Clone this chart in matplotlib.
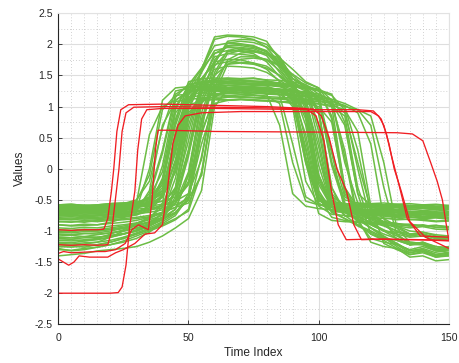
import matplotlib
matplotlib.use("Agg")
import matplotlib.pyplot as plt
from matplotlib.ticker import MultipleLocator

# ---------------- data ----------------
time_index = list(range(0, 151, 5))  # sample positions of the green series

green_series = [
    # upper group (second rise to a high peak)
    [-0.62,-0.63,-0.61,-0.63,-0.62,-0.60,-0.60,-0.57,-0.45,0.10,1.05,1.55,2.08,2.13,2.12,2.08,1.95,1.70,1.38,0.95,-0.25,-0.62,-0.68,-0.70,-0.69,-0.72,-0.71,-0.74,-0.73,-0.76,-0.75],
    [-0.70,-0.71,-0.69,-0.70,-0.70,-0.68,-0.68,-0.66,-0.60,-0.40,0.30,1.25,1.70,2.02,2.05,2.03,1.96,1.80,1.45,1.32,0.60,-0.50,-0.76,-0.78,-0.80,-0.79,-0.82,-0.81,-0.83,-0.85,-0.84],
    [-0.66,-0.65,-0.67,-0.66,-0.64,-0.65,-0.62,-0.55,-0.30,0.45,1.25,1.55,1.90,1.95,1.94,1.90,1.82,1.55,1.30,0.70,-0.40,-0.62,-0.63,-0.64,-0.66,-0.65,-0.67,-0.68,-0.70,-0.69,-0.71],
    [-0.75,-0.74,-0.76,-0.75,-0.73,-0.74,-0.72,-0.70,-0.66,-0.55,-0.20,0.90,1.50,1.85,1.90,1.88,1.85,1.72,1.45,1.30,1.10,0.10,-0.55,-0.65,-0.75,-0.85,-0.92,-1.00,-1.02,-1.06,-1.08],
    [-0.60,-0.58,-0.59,-0.60,-0.58,-0.57,-0.56,-0.52,-0.40,-0.05,0.95,1.40,1.80,1.85,1.84,1.82,1.75,1.58,1.35,1.05,-0.10,-0.55,-0.60,-0.58,-0.60,-0.61,-0.59,-0.62,-0.60,-0.63,-0.62],
    [-1.05,-1.06,-1.04,-1.05,-1.03,-1.00,-0.95,-0.88,-0.78,-0.55,0.20,1.20,1.75,1.98,2.00,1.97,1.90,1.70,1.40,1.28,0.45,-0.55,-0.65,-0.75,-0.88,-0.98,-1.08,-1.18,-1.20,-1.25,-1.27],
    [-0.80,-0.79,-0.81,-0.80,-0.78,-0.77,-0.74,-0.68,-0.45,0.30,1.20,1.45,1.72,1.76,1.75,1.70,1.60,1.40,1.10,0.10,-0.55,-0.68,-0.70,-0.72,-0.71,-0.73,-0.75,-0.74,-0.77,-0.76,-0.78],
    [-0.68,-0.69,-0.67,-0.68,-0.66,-0.67,-0.65,-0.63,-0.60,-0.52,-0.25,0.70,1.40,1.72,1.80,1.80,1.76,1.65,1.45,1.35,1.25,0.85,-0.30,-0.62,-0.72,-0.90,-1.05,-1.20,-1.22,-1.32,-1.35],
    [-1.15,-1.14,-1.16,-1.13,-1.10,-1.05,-1.00,-0.92,-0.82,-0.65,-0.10,1.05,1.50,1.68,1.70,1.68,1.62,1.50,1.35,1.25,0.90,-0.40,-0.62,-0.70,-0.80,-0.88,-0.95,-1.05,-1.05,-1.12,-1.15],
    [-0.72,-0.71,-0.73,-0.72,-0.70,-0.71,-0.69,-0.66,-0.58,-0.30,0.70,1.35,1.85,1.97,1.98,1.95,1.88,1.68,1.36,0.85,-0.45,-0.78,-0.83,-0.85,-0.86,-0.85,-0.88,-0.90,-0.92,-0.91,-0.94],
    [-0.64,-0.63,-0.65,-0.64,-0.62,-0.63,-0.61,-0.60,-0.57,-0.52,-0.40,0.15,1.30,1.75,1.86,1.88,1.85,1.78,1.60,1.40,1.30,1.10,0.10,-0.55,-0.63,-0.64,-0.66,-0.65,-0.67,-0.66,-0.68],
    [-0.90,-0.92,-0.91,-0.90,-0.88,-0.86,-0.83,-0.78,-0.62,0.05,1.05,1.35,1.60,1.65,1.64,1.62,1.55,1.42,1.30,1.10,0.20,-0.60,-0.68,-0.80,-0.95,-1.08,-1.20,-1.32,-1.30,-1.38,-1.40],
    [-0.63,-0.62,-0.64,-0.62,-0.61,-0.60,-0.59,-0.55,-0.45,-0.05,0.95,1.60,2.12,2.15,2.14,2.12,2.05,1.75,1.38,1.00,-0.20,-0.60,-0.66,-0.67,-0.69,-0.68,-0.70,-0.72,-0.71,-0.73,-0.74],
    [-0.85,-0.84,-0.86,-0.83,-0.82,-0.80,-0.78,-0.75,-0.70,-0.55,-0.05,1.10,1.65,1.88,1.92,1.90,1.85,1.75,1.50,1.32,1.15,0.30,-0.45,-0.58,-0.60,-0.62,-0.61,-0.63,-0.62,-0.64,-0.63],
    [-1.25,-1.26,-1.24,-1.22,-1.18,-1.12,-1.05,-0.97,-0.88,-0.75,-0.45,0.75,1.55,1.90,1.95,1.93,1.85,1.65,1.38,1.28,0.95,-0.45,-0.70,-0.80,-0.90,-1.00,-1.12,-1.22,-1.22,-1.30,-1.32],
    [-0.60,-0.59,-0.61,-0.60,-0.58,-0.57,-0.55,-0.48,-0.20,0.70,1.30,1.45,1.68,1.72,1.71,1.70,1.65,1.50,1.32,1.15,0.20,-0.52,-0.57,-0.58,-0.57,-0.59,-0.58,-0.60,-0.59,-0.61,-0.60],
    [-0.66,-0.67,-0.65,-0.66,-0.64,-0.63,-0.61,-0.55,-0.25,0.80,1.35,1.62,1.98,2.02,2.01,1.98,1.88,1.62,1.32,0.45,-0.50,-0.62,-0.64,-0.66,-0.65,-0.67,-0.68,-0.70,-0.69,-0.72,-0.71],
    [-0.60,-0.61,-0.59,-0.60,-0.59,-0.58,-0.57,-0.55,-0.52,-0.45,-0.25,0.60,1.70,2.05,2.08,2.07,2.00,1.80,1.45,1.30,0.70,-0.45,-0.58,-0.60,-0.61,-0.60,-0.62,-0.61,-0.63,-0.62,-0.64],
    [-0.72,-0.73,-0.71,-0.72,-0.70,-0.69,-0.68,-0.66,-0.63,-0.58,-0.48,-0.10,1.20,1.68,1.76,1.78,1.75,1.68,1.52,1.38,1.30,1.00,-0.30,-0.70,-0.75,-0.76,-0.78,-0.77,-0.79,-0.78,-0.80],
    [-0.58,-0.57,-0.59,-0.58,-0.56,-0.55,-0.54,-0.50,-0.35,0.35,1.30,1.60,1.86,1.90,1.89,1.85,1.72,1.48,1.30,0.20,-0.48,-0.55,-0.56,-0.57,-0.56,-0.58,-0.57,-0.59,-0.58,-0.60,-0.59],
    # lower group (plateau around 1.1 - 1.45)
    [-0.60,-0.61,-0.59,-0.60,-0.58,-0.57,-0.55,-0.45,-0.05,1.00,1.32,1.36,1.35,1.37,1.36,1.34,1.33,1.25,1.00,-0.20,-0.58,-0.62,-0.61,-0.63,-0.62,-0.64,-0.63,-0.65,-0.64,-0.66,-0.65],
    [-0.78,-0.77,-0.79,-0.78,-0.76,-0.75,-0.73,-0.66,-0.40,0.60,1.22,1.30,1.31,1.30,1.32,1.30,1.29,1.27,1.18,0.55,-0.45,-0.68,-0.70,-0.71,-0.70,-0.72,-0.74,-0.73,-0.76,-0.75,-0.78],
    [-0.62,-0.63,-0.61,-0.62,-0.60,-0.61,-0.59,-0.55,-0.38,0.25,1.25,1.40,1.42,1.43,1.42,1.41,1.40,1.38,1.32,1.05,-0.15,-0.62,-0.66,-0.67,-0.66,-0.68,-0.67,-0.70,-0.69,-0.71,-0.70],
    [-1.10,-1.11,-1.09,-1.10,-1.07,-1.04,-1.00,-0.92,-0.80,-0.30,0.85,1.22,1.26,1.25,1.27,1.25,1.24,1.23,1.20,1.10,0.35,-0.60,-0.70,-0.82,-0.95,-1.05,-1.12,-1.22,-1.18,-1.25,-1.28],
    [-1.20,-1.21,-1.19,-1.18,-1.15,-1.10,-1.03,-0.95,-0.85,-0.72,-0.40,0.80,1.35,1.38,1.39,1.37,1.36,1.35,1.33,1.28,1.10,0.05,-0.60,-0.75,-0.95,-1.10,-1.25,-1.38,-1.35,-1.42,-1.40],
    [-0.70,-0.69,-0.71,-0.70,-0.68,-0.67,-0.62,-0.40,0.30,1.20,1.32,1.33,1.32,1.34,1.32,1.31,1.28,1.18,0.40,-0.45,-0.58,-0.57,-0.58,-0.60,-0.59,-0.58,-0.60,-0.59,-0.61,-0.60,-0.62],
    [-0.85,-0.86,-0.84,-0.85,-0.83,-0.82,-0.80,-0.77,-0.72,-0.50,0.25,1.10,1.20,1.21,1.20,1.22,1.20,1.19,1.18,1.16,1.10,0.25,-0.65,-0.85,-0.88,-0.90,-0.92,-0.95,-0.93,-0.97,-0.98],
    [-1.25,-1.24,-1.26,-1.22,-1.18,-1.12,-1.05,-0.98,-0.90,-0.80,-0.68,-0.05,1.15,1.27,1.28,1.28,1.27,1.26,1.25,1.24,1.20,1.10,0.20,-0.85,-1.12,-1.18,-1.22,-1.30,-1.25,-1.32,-1.30],
    [-0.66,-0.65,-0.67,-0.66,-0.64,-0.63,-0.61,-0.52,-0.20,0.95,1.35,1.40,1.41,1.40,1.42,1.40,1.38,1.36,1.33,1.30,1.25,1.18,0.95,0.00,-0.85,-1.00,-1.05,-1.10,-1.08,-1.15,-1.12],
    [-1.00,-1.01,-0.99,-1.00,-0.98,-0.95,-0.92,-0.86,-0.72,-0.15,0.90,1.14,1.15,1.16,1.15,1.14,1.13,1.12,1.10,1.08,1.05,1.02,0.95,0.60,-0.60,-1.20,-1.30,-1.38,-1.33,-1.42,-1.38],
    [-0.60,-0.59,-0.61,-0.60,-0.58,-0.56,-0.50,-0.20,0.65,1.25,1.30,1.31,1.30,1.29,1.30,1.28,1.27,1.24,1.15,0.35,-0.60,-0.73,-0.75,-0.74,-0.76,-0.75,-0.77,-0.78,-0.80,-0.79,-0.81],
    [-1.30,-1.31,-1.28,-1.26,-1.22,-1.16,-1.08,-1.00,-0.92,-0.82,-0.65,0.20,1.25,1.34,1.35,1.36,1.35,1.33,1.32,1.30,1.27,1.20,0.75,-0.40,-1.05,-1.12,-1.15,-1.22,-1.18,-1.28,-1.25],
    [-0.74,-0.73,-0.75,-0.74,-0.72,-0.71,-0.69,-0.63,-0.42,0.30,1.02,1.10,1.11,1.10,1.12,1.10,1.09,1.08,1.07,1.05,1.00,0.75,-0.35,-0.75,-0.78,-0.80,-0.79,-0.82,-0.81,-0.84,-0.83],
    [-1.08,-1.07,-1.09,-1.06,-1.03,-1.00,-0.96,-0.90,-0.80,-0.45,0.60,1.35,1.42,1.43,1.42,1.41,1.40,1.38,1.34,1.15,0.05,-0.60,-0.70,-0.78,-0.85,-0.92,-1.00,-1.05,-1.02,-1.08,-1.10],
    [-0.82,-0.81,-0.83,-0.82,-0.80,-0.78,-0.74,-0.58,0.05,1.10,1.24,1.26,1.25,1.24,1.25,1.23,1.22,1.20,1.18,1.16,1.12,1.08,1.02,0.90,0.40,-0.80,-1.15,-1.22,-1.20,-1.30,-1.28],
    [-1.40,-1.38,-1.36,-1.32,-1.30,-1.28,-1.25,-1.18,-1.08,-0.95,-0.80,-0.35,1.00,1.28,1.30,1.31,1.30,1.28,1.27,1.22,0.95,-0.30,-0.75,-0.90,-1.05,-1.15,-1.28,-1.42,-1.40,-1.48,-1.46],
    [-0.58,-0.57,-0.59,-0.58,-0.56,-0.55,-0.54,-0.48,-0.25,0.75,1.40,1.45,1.46,1.45,1.44,1.45,1.43,1.42,1.40,1.35,1.20,0.10,-0.50,-0.55,-0.56,-0.55,-0.57,-0.56,-0.58,-0.57,-0.59],
    [-1.18,-1.19,-1.16,-1.14,-1.10,-1.05,-0.98,-0.90,-0.82,-0.70,-0.50,0.55,1.18,1.22,1.23,1.22,1.21,1.20,1.19,1.18,1.15,1.05,0.30,-0.80,-1.18,-1.25,-1.28,-1.35,-1.30,-1.38,-1.36],
    [-0.68,-0.67,-0.69,-0.68,-0.66,-0.65,-0.63,-0.58,-0.45,0.15,1.15,1.32,1.33,1.34,1.33,1.32,1.30,1.28,1.10,0.10,-0.72,-0.83,-0.85,-0.86,-0.88,-0.87,-0.90,-0.89,-0.92,-0.91,-0.93],
    [-0.95,-0.96,-0.94,-0.95,-0.92,-0.90,-0.87,-0.82,-0.75,-0.55,0.30,1.30,1.39,1.40,1.41,1.40,1.38,1.37,1.35,1.32,1.28,0.80,-0.40,-0.70,-0.82,-0.90,-1.00,-1.08,-1.05,-1.12,-1.10],
    [-0.75,-0.76,-0.74,-0.75,-0.73,-0.72,-0.70,-0.60,-0.15,0.90,1.15,1.18,1.19,1.18,1.17,1.18,1.16,1.15,1.14,1.12,1.10,1.05,0.70,-0.40,-0.58,-0.60,-0.62,-0.61,-0.63,-0.62,-0.64],
    [-1.02,-1.03,-1.01,-1.00,-0.97,-0.94,-0.90,-0.85,-0.78,-0.65,-0.10,1.05,1.28,1.30,1.31,1.30,1.29,1.27,1.25,1.22,1.18,1.12,1.05,0.95,0.70,-0.30,-1.05,-1.22,-1.20,-1.30,-1.35],
    [-0.64,-0.63,-0.65,-0.64,-0.62,-0.61,-0.60,-0.55,-0.35,0.40,1.22,1.28,1.29,1.28,1.27,1.28,1.26,1.25,1.23,1.20,1.16,1.10,1.00,0.30,-0.70,-0.86,-0.90,-0.92,-0.91,-0.94,-0.95],
    [-1.12,-1.13,-1.11,-1.10,-1.08,-1.05,-1.00,-0.92,-0.70,0.00,1.10,1.35,1.36,1.37,1.36,1.35,1.34,1.32,1.25,0.90,-0.40,-0.70,-0.80,-0.90,-1.00,-1.10,-1.20,-1.32,-1.28,-1.35,-1.38],
    [-0.63,-0.62,-0.64,-0.63,-0.61,-0.60,-0.52,-0.10,0.95,1.18,1.20,1.22,1.21,1.22,1.20,1.19,1.17,1.05,0.10,-0.52,-0.58,-0.60,-0.59,-0.61,-0.60,-0.62,-0.61,-0.63,-0.62,-0.64,-0.63],
    [-0.70,-0.71,-0.69,-0.70,-0.68,-0.66,-0.62,-0.45,0.25,1.15,1.36,1.38,1.39,1.38,1.37,1.38,1.36,1.34,1.28,0.80,-0.45,-0.62,-0.68,-0.74,-0.80,-0.85,-0.88,-0.92,-0.90,-0.94,-0.95],
    [-0.76,-0.75,-0.77,-0.76,-0.74,-0.73,-0.68,-0.35,0.70,1.08,1.12,1.13,1.12,1.11,1.12,1.11,1.10,1.08,1.05,0.95,-0.10,-0.62,-0.68,-0.70,-0.69,-0.71,-0.70,-0.72,-0.71,-0.73,-0.72],
    [-0.98,-0.99,-0.97,-0.98,-0.95,-0.92,-0.88,-0.80,-0.55,0.50,1.25,1.30,1.31,1.30,1.29,1.30,1.28,1.26,1.24,1.20,1.15,1.05,0.90,0.10,-0.65,-0.80,-0.92,-1.05,-1.05,-1.12,-1.12],
    [-0.62,-0.61,-0.63,-0.62,-0.60,-0.61,-0.59,-0.57,-0.52,-0.35,0.45,1.38,1.44,1.46,1.45,1.46,1.42,1.36,1.20,0.15,-0.52,-0.56,-0.57,-0.58,-0.57,-0.59,-0.58,-0.60,-0.59,-0.61,-0.60],
    [-1.28,-1.32,-1.30,-1.26,-1.22,-1.18,-1.12,-1.02,-0.85,-0.35,0.80,1.25,1.28,1.29,1.28,1.27,1.26,1.24,1.20,0.90,-0.35,-0.68,-0.80,-0.92,-1.02,-1.12,-1.22,-1.35,-1.32,-1.40,-1.38],
    [-0.80,-0.81,-0.79,-0.80,-0.78,-0.75,-0.65,0.00,1.10,1.30,1.32,1.33,1.32,1.31,1.30,1.28,1.20,0.70,-0.40,-0.60,-0.64,-0.66,-0.65,-0.67,-0.66,-0.68,-0.67,-0.69,-0.68,-0.70,-0.69],
    [-1.05,-1.06,-1.04,-1.03,-1.00,-0.96,-0.92,-0.86,-0.80,-0.70,-0.50,0.60,1.12,1.15,1.16,1.15,1.14,1.13,1.12,1.10,1.08,1.05,1.00,0.95,0.85,0.10,-0.95,-1.18,-1.20,-1.28,-1.30],
    # early riser and slow risers
    [-0.90,-0.91,-0.89,-0.90,-0.86,-0.80,-0.55,0.55,1.00,1.10,1.25,1.28,1.27,1.28,1.26,1.25,1.24,1.20,1.05,0.30,-0.50,-0.66,-0.68,-0.69,-0.68,-0.70,-0.71,-0.72,-0.74,-0.73,-0.75],
    [-1.22,-1.23,-1.21,-1.18,-1.10,-1.00,-0.90,-0.80,-0.70,-0.62,-0.55,-0.10,1.15,1.30,1.31,1.30,1.29,1.28,1.26,1.22,0.90,-0.30,-0.68,-0.72,-0.74,-0.73,-0.76,-0.75,-0.78,-0.77,-0.80],
    [-1.15,-1.16,-1.14,-1.12,-1.05,-0.98,-0.88,-0.78,-0.70,-0.62,-0.45,0.40,1.05,1.10,1.11,1.10,1.09,1.08,1.07,1.06,1.04,1.00,0.85,-0.30,-0.90,-1.00,-1.02,-1.08,-1.05,-1.10,-1.12],
]

red_t1 = [0, 5, 10, 15, 17.5, 19, 20.4, 21.3, 22.5, 24, 27, 40, 60, 80, 95, 99, 102, 104.9, 107.5, 110.6, 120, 135, 150]
red_v1 = [-0.98, -0.99, -0.98, -0.98, -0.97, -0.80, -0.36, 0.0, 0.6, 0.95, 1.03, 1.04, 1.02, 1.00, 0.97, 0.85, 0.45, -0.36, -0.90, -1.14, -1.13, -1.14, -1.15]

red_t2 = [0, 5, 10, 15, 19, 20.5, 22.3, 23.3, 24.5, 26, 29, 40, 60, 80, 98, 101, 104, 107, 110.7, 113.5, 116.4, 125, 140, 150]
red_v2 = [-1.22, -1.23, -1.22, -1.23, -1.22, -1.0, -0.36, 0.0, 0.6, 0.9, 0.99, 1.0, 0.99, 0.98, 0.96, 0.85, 0.5, 0.0, -0.36, -0.9, -1.14, -1.13, -1.14, -1.16]

red_t3 = [0, 10, 20, 23, 24.5, 26, 27.4, 29.4, 30.5, 32, 34, 40, 60, 80, 100, 115, 121, 124, 126, 128, 130.5, 134, 139, 150]
red_v3 = [-2.0, -2.0, -2.0, -1.99, -1.9, -1.55, -0.93, -0.36, 0.3, 0.8, 0.95, 0.97, 0.97, 0.96, 0.95, 0.95, 0.93, 0.8, 0.56, 0.2, -0.2, -0.8, -1.08, -1.1]

red_t4 = [0, 2, 5, 10, 15, 18, 22, 25.7, 28.2, 30.8, 34.6, 36, 37.3, 38.3, 42, 60, 100, 130, 136, 140, 143, 145.5, 147.5, 149, 150]
red_v4 = [-1.36, -1.33, -1.35, -1.34, -1.33, -1.33, -1.30, -1.2, -0.98, -0.9, -0.98, -0.5, 0.3, 0.62, 0.62, 0.60, 0.59, 0.58, 0.56, 0.45, 0.1, -0.2, -0.5, -0.9, -1.15]

red_t5 = [0, 2, 4, 6, 8, 12, 19, 22, 25, 29.4, 33.3, 37, 40, 42, 44, 46, 48.7, 55, 70, 100, 120, 123, 125, 127, 129, 131.7, 135, 141, 150]
red_v5 = [-1.45, -1.5, -1.55, -1.5, -1.4, -1.42, -1.42, -1.35, -1.3, -1.2, -1.05, -1.03, -0.9, -0.3, 0.4, 0.7, 0.85, 0.9, 0.92, 0.92, 0.92, 0.85, 0.7, 0.4, 0.0, -0.36, -0.85, -1.1, -1.28]

red_series = [(red_t1, red_v1), (red_t2, red_v2), (red_t3, red_v3), (red_t4, red_v4), (red_t5, red_v5)]

x_ticks = [0, 50, 100, 150]
y_ticks = [-2.5, -2, -1.5, -1, -0.5, 0, 0.5, 1, 1.5, 2, 2.5]
y_tick_labels = ["-2.5", "-2", "-1.5", "-1", "-0.5", "0", "0.5", "1", "1.5", "2", "2.5"]

# ---------------- drawing ----------------
plt.rcParams['font.family'] = ['Liberation Sans', 'DejaVu Sans']
fig = plt.figure(figsize=(4.59, 3.63), dpi=100)
ax = fig.add_axes([0.127, 0.1066, 0.851, 0.8568])

green = '#6cbd45'
red = '#f01e23'
for vals in green_series:
    ax.plot(time_index, vals, color=green, lw=1.1, solid_joinstyle='round')
for tt, vv in red_series:
    ax.plot(tt, vv, color=red, lw=0.95, solid_joinstyle='round')

ax.set_xlim(0, 150)
ax.set_ylim(-2.5, 2.5)
ax.set_xticks(x_ticks)
ax.set_yticks(y_ticks)
ax.set_yticklabels(y_tick_labels)
ax.xaxis.set_minor_locator(MultipleLocator(5))
ax.yaxis.set_minor_locator(MultipleLocator(0.25))
ax.grid(which='major', color='#dedede', lw=0.8, ls='-')
ax.grid(which='minor', color='#c4c4c4', lw=0.6, ls=(0, (1, 2.5)))
ax.set_axisbelow(True)

for s in ['top', 'right']:
    ax.spines[s].set_color('#e2e2e2')
    ax.spines[s].set_linewidth(0.8)
for s in ['left', 'bottom']:
    ax.spines[s].set_color('#262626')
    ax.spines[s].set_linewidth(0.8)

ax.tick_params(which='major', direction='in', length=3, width=0.6, color='#262626',
               labelsize=7.6, labelcolor='#262626', pad=4)
ax.tick_params(which='minor', length=0)
ax.tick_params(axis='x', pad=6)

ax.set_xlabel('Time Index', fontsize=8.6, color='#262626', labelpad=3)
ax.set_ylabel('Values', fontsize=8.6, color='#262626', labelpad=6)

fig.savefig('out.png', dpi=100)
